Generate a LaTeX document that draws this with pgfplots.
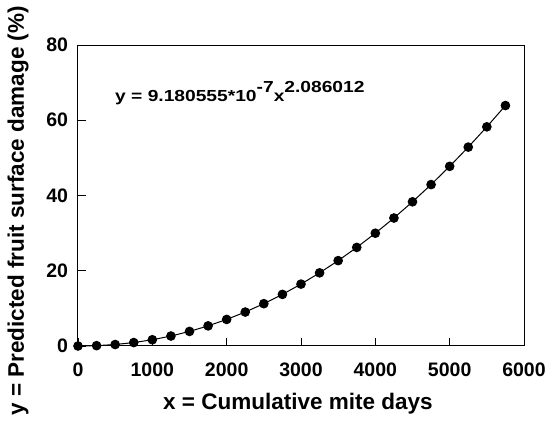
\documentclass[border=0pt]{standalone}
\usepackage{pgfplots}
\pgfplotsset{compat=1.18}
\usepackage{fontspec}
\setmainfont{Liberation Sans}
\newfontfamily\eqfont{Liberation Sans}[FakeStretch=1.2]
\begin{document}
\begin{tikzpicture}
\useasboundingbox (-78pt,-76pt) rectangle (473pt,346pt);
\begin{axis}[
  at={(0,0)}, anchor=south west,
  scale only axis,
  width=446pt, height=301pt,
  xmin=0, xmax=6000, ymin=0, ymax=80,
  xtick={0,1000,...,6000}, ytick={0,20,...,80},
  tick align=inside,
  xtick pos=bottom, ytick pos=left,
  major tick length=8pt,
  axis line style={line width=1pt},
  tick style={line width=0.8pt, black},
  /pgf/number format/assume math mode=true,
  /pgf/number format/set thousands separator={},
  ticklabel style={font=\fontsize{19.5}{21}\selectfont\bfseries},
  xticklabel style={anchor=base, yshift=-31pt},
  yticklabel style={xshift=-6.5pt},
  xlabel={x = Cumulative mite days},
  ylabel={y = Predicted fruit surface damage (\%)},
  label style={font=\fontsize{22.5}{24}\selectfont\bfseries},
  xlabel style={at={(axis description cs:0.493,-0.2126)}, anchor=base},
  ylabel style={at={(axis description cs:-0.1345,0.449)}, anchor=center},
  clip=false,
]
\addplot[black, line width=1pt, mark=*, mark size=4.3pt] coordinates {
(0,0) (250,0.0923) (500,0.3917) (750,0.9126) (1000,1.6630) (1250,2.6488)
(1500,3.8746) (1750,5.3441) (2000,7.0607) (2250,9.0272) (2500,11.246)
(2750,13.720) (3000,16.450) (3250,19.440) (3500,22.690) (3750,26.202)
(4000,29.978) (4250,34.019) (4500,38.327) (4750,42.903) (5000,47.748)
(5250,52.863) (5500,58.251) (5750,63.911)
};
\node[anchor=base west, inner sep=0pt, font=\eqfont\fontsize{16}{18}\selectfont\bfseries] at (axis cs:498,65.1)
  {y = 9.180555*10\raisebox{9pt}{-7}x\raisebox{9pt}{2.086012}};
\end{axis}
\end{tikzpicture}
\end{document}
